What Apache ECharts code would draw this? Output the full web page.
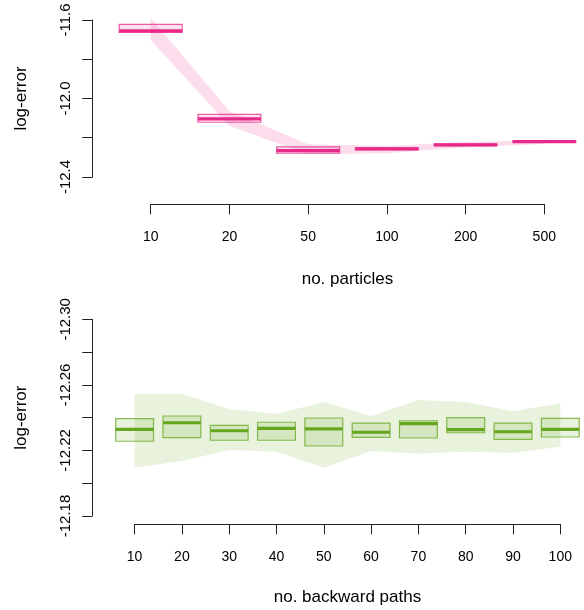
<!DOCTYPE html>
<html>
<head>
<meta charset="utf-8">
<script src="https://cdn.jsdelivr.net/npm/echarts@6/dist/echarts.min.js"></script>
<style>
html,body{margin:0;padding:0;background:#fff;}
#chart{width:584px;height:610px;}
</style>
</head>
<body>
<div id="chart"></div>
<script>
// ---- Top panel: no. particles ----
const topCats = ['10', '20', '50', '100', '200', '500'];
const topMed = [-11.655, -12.104, -12.266, -12.257, -12.236, -12.220];
const topBoxLo = [-11.663, -12.121, -12.279, -12.261, -12.240, -12.224];
const topBoxHi = [-11.622, -12.081, -12.247, -12.252, -12.232, -12.216];
const topBandLo = [-11.702, -12.140, -12.284, -12.279, -12.249, -12.232];
const topBandHi = [-11.588, -12.064, -12.233, -12.242, -12.222, -12.211];
const topYTicks = ['-11.6', '-12.0', '-12.4'];

// ---- Bottom panel: no. backward paths ----
const botCats = [10, 20, 30, 40, 50, 60, 70, 80, 90, 100];
const botMed = [-12.2329, -12.2369, -12.2320, -12.2335, -12.2331, -12.2311, -12.2363, -12.2327, -12.2314, -12.2329];
const botBoxLo = [-12.2394, -12.2410, -12.2353, -12.2372, -12.2398, -12.2366, -12.2381, -12.2400, -12.2366, -12.2396];
const botBoxHi = [-12.2256, -12.2278, -12.2262, -12.2262, -12.2227, -12.2280, -12.2276, -12.2308, -12.2268, -12.2282];
const botBandLo = [-12.2544, -12.2544, -12.2453, -12.2422, -12.2495, -12.2410, -12.2508, -12.2495, -12.2439, -12.2487];
const botBandHi = [-12.2095, -12.2135, -12.2203, -12.2192, -12.2095, -12.2197, -12.2182, -12.2192, -12.2186, -12.2222];
const botYTicks = ['-12.30', '-12.26', '-12.22', '-12.18'];

const FONT = "'Liberation Sans', Arial, Helvetica, sans-serif";
const PINK = '#E7298A';
const GREEN = '#66A61E';

function bandSeries(xs, lo, hi, axisIdx, fill) {
  return {
    type: 'custom', xAxisIndex: axisIdx, yAxisIndex: axisIdx, silent: true, z: 1,
    data: xs.map((x, i) => [x, lo[i], hi[i]]),
    encode: { x: 0, y: [1, 2] },
    renderItem: function (params, api) {
      if (params.dataIndex !== 0) return null;
      const pts = [];
      for (let i = 0; i < xs.length; i++) pts.push(api.coord([xs[i], hi[i]]));
      for (let i = xs.length - 1; i >= 0; i--) pts.push(api.coord([xs[i], lo[i]]));
      return { type: 'polygon', shape: { points: pts }, style: { fill: fill } };
    }
  };
}

function boxSeries(xs, lo, hi, med, axisIdx, halfW, border, fill, color) {
  return {
    type: 'custom', xAxisIndex: axisIdx, yAxisIndex: axisIdx, silent: true, z: 2,
    data: xs.map((x, i) => [x, lo[i], hi[i], med[i]]),
    encode: { x: 0, y: [1, 2, 3] },
    renderItem: function (params, api) {
      const x = api.value(0);
      const a = api.coord([x - halfW, api.value(2)]);
      const b = api.coord([x + halfW, api.value(1)]);
      const m1 = api.coord([x - halfW, api.value(3)]);
      const m2 = api.coord([x + halfW, api.value(3)]);
      return {
        type: 'group',
        children: [
          { type: 'rect', shape: { x: Math.min(a[0], b[0]), y: Math.min(a[1], b[1]), width: Math.abs(b[0] - a[0]), height: Math.abs(b[1] - a[1]) },
            style: { fill: fill, stroke: border, lineWidth: 1.2 } },
          { type: 'line', shape: { x1: m1[0], y1: m1[1], x2: m2[0], y2: m2[1] },
            style: { stroke: color, lineWidth: 3.2, lineCap: 'butt' } }
        ]
      };
    }
  };
}

const axisLine = { show: true, lineStyle: { color: '#222', width: 1 } };
const axisTick = { show: true, length: 10, lineStyle: { color: '#222', width: 1 } };
const txtX = { color: '#000', fontFamily: FONT, fontSize: 14 };
const txtY = { color: '#000', fontFamily: FONT, fontSize: 15 };
const txtName = { color: '#000', fontFamily: FONT, fontSize: 17 };
const topX = topCats.map((c, i) => i + 1);

const option = {
  animation: false,
  backgroundColor: '#fff',
  grid: [
    { left: 150.7, top: 20, width: 393.6, height: 157 },
    { left: 134.6, top: 319.3, width: 425.7, height: 196.7 }
  ],
  xAxis: [
    { type: 'value', gridIndex: 0, min: 1, max: 6, interval: 1, offset: 27.3,
      axisLine: axisLine, axisTick: axisTick, splitLine: { show: false },
      axisLabel: Object.assign({ margin: 26, formatter: v => topCats[Math.round(v) - 1] || '' }, txtX),
      name: 'no. particles', nameLocation: 'middle', nameGap: 67, nameTextStyle: txtName },
    { type: 'value', gridIndex: 1, min: 10, max: 100, interval: 10, offset: 8.3,
      axisLine: axisLine, axisTick: axisTick, splitLine: { show: false },
      axisLabel: Object.assign({ margin: 26, formatter: v => String(Math.round(v)) }, txtX),
      name: 'no. backward paths', nameLocation: 'middle', nameGap: 65, nameTextStyle: txtName }
  ],
  yAxis: [
    { type: 'value', gridIndex: 0, min: -12.4, max: -11.6, interval: 0.2, offset: 58.4,
      axisLine: axisLine, axisTick: axisTick, splitLine: { show: false },
      axisLabel: Object.assign({ rotate: 90, margin: 19, showMinLabel: true, showMaxLabel: true,
        formatter: v => { const s = v.toFixed(1); return topYTicks.indexOf(s) >= 0 ? s : ''; } }, txtY),
      name: 'log-error', nameLocation: 'middle', nameGap: 62, nameTextStyle: txtName },
    { type: 'value', gridIndex: 1, min: -12.30, max: -12.18, interval: 0.02, inverse: true, offset: 42.3,
      axisLine: axisLine, axisTick: axisTick, splitLine: { show: false },
      axisLabel: Object.assign({ rotate: 90, margin: 19, showMinLabel: true, showMaxLabel: true,
        formatter: v => { const s = v.toFixed(2); return botYTicks.indexOf(s) >= 0 ? s : ''; } }, txtY),
      name: 'log-error', nameLocation: 'middle', nameGap: 62, nameTextStyle: txtName }
  ],
  series: [
    bandSeries(topX, topBandLo, topBandHi, 0, 'rgba(231,41,138,0.16)'),
    boxSeries(topX, topBoxLo, topBoxHi, topMed, 0, 0.4, 'rgba(231,41,138,0.75)', 'rgba(231,41,138,0.12)', PINK),
    bandSeries(botCats, botBandLo, botBandHi, 1, 'rgba(102,166,30,0.15)'),
    boxSeries(botCats, botBoxLo, botBoxHi, botMed, 1, 4, 'rgba(102,166,30,0.75)', 'rgba(102,166,30,0.15)', GREEN)
  ]
};

const chart = echarts.init(document.getElementById('chart'), null, { renderer: 'canvas' });
chart.setOption(option);
</script>
</body>
</html>
